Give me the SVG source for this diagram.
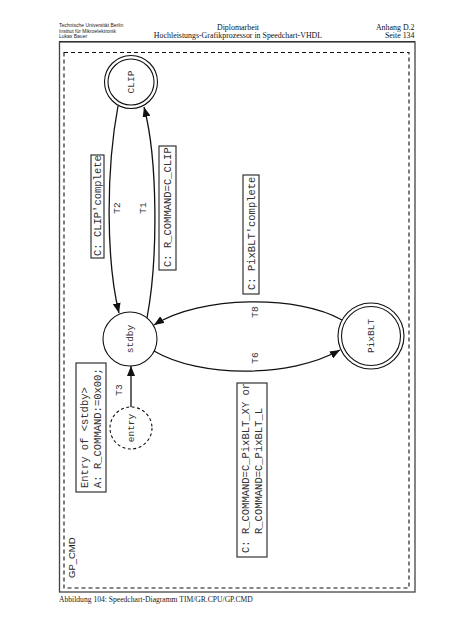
<svg xmlns="http://www.w3.org/2000/svg" width="452" height="640" viewBox="0 0 452 640">
<style>
.hdrs{font-family:"Liberation Sans",Arial,sans-serif;font-size:5px;fill:#222}
.hdr{font-family:"Liberation Serif","Times New Roman",serif;font-size:7.9px;fill:#111}
.cap{font-family:"Liberation Serif","Times New Roman",serif;font-size:7.6px;fill:#222}
.mono{font-family:"Liberation Mono","Courier New",monospace;font-size:10.5px;fill:#333}
.nl{font-family:"Liberation Mono","Courier New",monospace;font-size:9.5px;fill:#333;text-anchor:middle;dominant-baseline:central}
.lbl{fill:#fff;stroke:#333;stroke-width:1.2}
.node{fill:#fff;stroke:#111;stroke-width:1.1}
.edge{fill:none;stroke:#111;stroke-width:1.3}
.title{font-family:"Liberation Sans",Arial,sans-serif;font-size:9.5px;fill:#222}
</style>
<defs>
<marker id="arr" viewBox="0 0 10 8" refX="10" refY="4" markerWidth="10" markerHeight="8" markerUnits="userSpaceOnUse" orient="auto">
<path d="M0,0 L10,4 L0,8 z" fill="#111"/>
</marker>
</defs>
<rect width="452" height="640" fill="#fff"/>

<g id="header">
<text class="hdrs" x="59" y="27">Technische Universität Berlin</text>
<text class="hdrs" x="59" y="32.5">Institut für Mikroelektronik</text>
<text class="hdrs" x="59" y="38">Lukas Bauer</text>
<text class="hdr" x="238" y="29.5" text-anchor="middle">Diplomarbeit</text>
<text class="hdr" x="238" y="38" text-anchor="middle">Hochleistungs-Grafikprozessor in Speedchart-VHDL</text>
<text class="hdr" x="414.5" y="29.5" text-anchor="end">Anhang D.2</text>
<text class="hdr" x="414.5" y="38" text-anchor="end">Seite 134</text>
<line x1="59" y1="41.5" x2="415" y2="41.5" stroke="#111" stroke-width="1.2"/>
</g>

<g id="frame">
<rect x="59.5" y="42" width="355.5" height="550" fill="none" stroke="#444" stroke-width="1.3"/>
<rect x="64" y="52.5" width="345" height="535.5" fill="none" stroke="#111" stroke-width="1.1" stroke-dasharray="4,3"/>
<text class="title" transform="translate(75,578) rotate(-90)">GP_CMD</text>
</g>

<g id="connectors">
<path id="T2" class="edge" d="M118,106 C106,170 106,260 119,313" marker-end="url(#arr)"/>
<path id="T1" class="edge" d="M147,318 C158,260 158,160 144,107" marker-end="url(#arr)"/>
<path id="T8" class="edge" d="M342,320 C300,295 200,295 154,325" marker-end="url(#arr)"/>
<path id="T6" class="edge" d="M154,351 C200,378 290,378 340,350" marker-end="url(#arr)"/>
<path id="T3" class="edge" d="M131,407 L131,366" marker-end="url(#arr)"/>
<text class="nl" transform="translate(117,208) rotate(-90)">T2</text>
<text class="nl" transform="translate(143,208) rotate(-90)">T1</text>
<text class="nl" transform="translate(255,312) rotate(-90)">T8</text>
<text class="nl" transform="translate(255,358) rotate(-90)">T6</text>
<text class="nl" transform="translate(119,390) rotate(-90)">T3</text>
</g>

<g id="CLIP">
<circle class="node" cx="131" cy="82" r="26.5"/>
<circle class="node" cx="131" cy="82" r="23" fill="none"/>
<text class="nl" transform="translate(131,82) rotate(-90)">CLIP</text>
</g>

<g id="stdby">
<circle class="node" cx="130" cy="339" r="27"/>
<text class="nl" transform="translate(130,339) rotate(-90)">stdby</text>
</g>

<g id="PixBLT">
<circle class="node" cx="371" cy="336" r="33"/>
<circle class="node" cx="371" cy="336" r="29.5" fill="none"/>
<text class="nl" transform="translate(371,336) rotate(-90)">PixBLT</text>
</g>

<g id="entry">
<circle cx="131" cy="428" r="21" fill="#fff" stroke="#111" stroke-width="1.1" stroke-dasharray="3,2.5"/>
<text class="nl" transform="translate(131,428) rotate(-90)">entry</text>
</g>

<g id="label-T2">
<rect class="lbl" x="91" y="155" width="13" height="103"/>
<text class="mono" transform="translate(101,256) rotate(-90)">C: CLIP'complete</text>
</g>

<g id="label-T1">
<rect class="lbl" x="159" y="146" width="17" height="124"/>
<text class="mono" transform="translate(171,267) rotate(-90)">C: R_COMMAND=C_CLIP</text>
</g>

<g id="label-T8">
<rect class="lbl" x="243" y="175" width="16" height="119"/>
<text class="mono" transform="translate(255,290) rotate(-90)">C: PixBLT'complete</text>
</g>

<g id="label-T6">
<rect class="lbl" x="237" y="383" width="30" height="174"/>
<text class="mono" transform="translate(249,553) rotate(-90)">C: R_COMMAND=C_PixBLT_XY or</text>
<text class="mono" transform="translate(262,534) rotate(-90)">R_COMMAND=C_PixBLT_L</text>
</g>

<g id="label-entry">
<rect class="lbl" x="76" y="363" width="30" height="129"/>
<text class="mono" transform="translate(88,488) rotate(-90)">Entry of &lt;stdby&gt;</text>
<text class="mono" transform="translate(101,488) rotate(-90)">A: R_COMMAND:=0x00;</text>
</g>

<text class="cap" x="59" y="602">Abbildung 104: Speedchart-Diagramm TIM/GR.CPU/GP.CMD</text>
</svg>
